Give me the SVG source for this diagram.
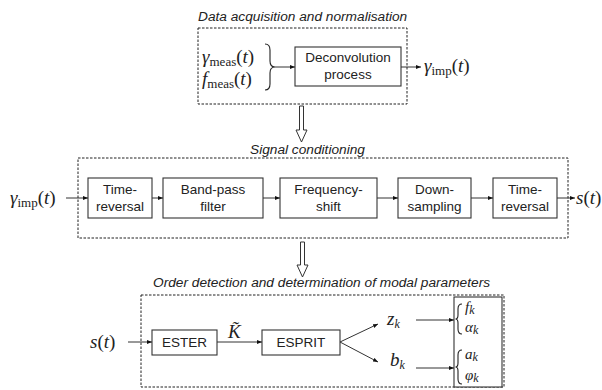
<svg xmlns="http://www.w3.org/2000/svg" width="602" height="390" viewBox="0 0 602 390">
<defs>
<marker id="ah" viewBox="0 0 10 10" refX="10" refY="5" markerWidth="5" markerHeight="5" orient="auto" markerUnits="userSpaceOnUse">
<path d="M0,1 L10,5 L0,9 z" fill="#111"/>
</marker>
</defs>
<style>
.box{fill:#fff;stroke:#333;stroke-width:1.1}
.dash{fill:none;stroke:#222;stroke-width:1;stroke-dasharray:2.5,1.5}
.lbl{font-family:"Liberation Sans",Arial,sans-serif;font-size:13.5px;fill:#222;text-anchor:middle}
.ttl{font-family:"Liberation Sans",Arial,sans-serif;font-size:13.7px;font-style:italic;fill:#222}
.m{font-family:"Liberation Serif","Times New Roman",serif;font-size:19px;fill:#222}
.r{font-family:"Liberation Serif","Times New Roman",serif;font-size:15px;fill:#222}
.mi{font-style:italic}
.sub{font-size:13px;font-style:normal}
.subi{font-size:12px;font-style:italic}
.c{fill:none;stroke:#333;stroke-width:1}
.hollow{fill:#fff;stroke:#333;stroke-width:1}
.brace{fill:none;stroke:#222;stroke-width:1.1}
</style>

<g id="group-acquisition">
<text class="ttl" x="198" y="21">Data acquisition and normalisation</text>
<rect class="dash" x="198" y="28" width="209" height="76"/>
</g>
<g id="inputs">
<text class="m" x="202" y="63"><tspan class="mi">γ</tspan><tspan class="sub" dy="3">meas</tspan><tspan dy="-3">(</tspan><tspan class="mi">t</tspan>)</text>
<text class="m" x="202" y="85"><tspan class="mi">f</tspan><tspan class="sub" dy="3">meas</tspan><tspan dy="-3">(</tspan><tspan class="mi">t</tspan>)</text>
<path class="brace" d="M265,44 Q270,44 270,50 L270,61 Q270,67 275,67 Q270,67 270,73 L270,84 Q270,90 265,90"/>
</g>
<g id="deconvolution">
<rect class="box" x="295" y="47" width="106" height="39"/>
<text class="lbl" x="348" y="62">Deconvolution</text>
<text class="lbl" x="348" y="79">process</text>
</g>
<g id="out-imp">
<text class="m" x="424" y="72"><tspan class="mi">γ</tspan><tspan class="sub" dy="3">imp</tspan><tspan dy="-3">(</tspan><tspan class="mi">t</tspan>)</text>
</g>

<g id="group-conditioning">
<text class="ttl" x="250" y="154">Signal conditioning</text>
<rect class="dash" x="78" y="158" width="490" height="80"/>
</g>
<g id="in-imp">
<text class="m" x="10" y="204"><tspan class="mi">γ</tspan><tspan class="sub" dy="3">imp</tspan><tspan dy="-3">(</tspan><tspan class="mi">t</tspan>)</text>
</g>
<g id="timerev1">
<rect class="box" x="88" y="178" width="64" height="40"/>
<text class="lbl" x="120" y="194">Time-</text>
<text class="lbl" x="120" y="211">reversal</text>
</g>
<g id="bandpass">
<rect class="box" x="163" y="178" width="100" height="40"/>
<text class="lbl" x="213" y="194">Band-pass</text>
<text class="lbl" x="213" y="211">filter</text>
</g>
<g id="freqshift">
<rect class="box" x="280" y="178" width="97" height="40"/>
<text class="lbl" x="328.5" y="194">Frequency-</text>
<text class="lbl" x="328.5" y="211">shift</text>
</g>
<g id="downsampling">
<rect class="box" x="398" y="178" width="73" height="40"/>
<text class="lbl" x="434.5" y="194">Down-</text>
<text class="lbl" x="434.5" y="211">sampling</text>
</g>
<g id="timerev2">
<rect class="box" x="493" y="178" width="64" height="40"/>
<text class="lbl" x="525" y="194">Time-</text>
<text class="lbl" x="525" y="211">reversal</text>
</g>
<g id="out-s">
<text class="m" x="576" y="204"><tspan class="mi">s</tspan>(<tspan class="mi">t</tspan>)</text>
</g>

<g id="group-order">
<text class="ttl" x="153" y="287">Order detection and determination of modal parameters</text>
<rect class="dash" x="141" y="295" width="363" height="92"/>
</g>
<g id="in-s">
<text class="m" x="90" y="348"><tspan class="mi">s</tspan>(<tspan class="mi">t</tspan>)</text>
</g>
<g id="ester">
<rect class="box" x="152" y="330" width="65" height="25"/>
<text class="lbl" x="184.5" y="347">ESTER</text>
</g>
<g id="esprit">
<rect class="box" x="262" y="330" width="78" height="25"/>
<text class="lbl" x="301" y="347">ESPRIT</text>
</g>
<g id="ktilde">
<text class="m mi" x="228" y="338">K̃</text>
</g>
<g id="zk">
<text class="m" x="387" y="325"><tspan class="mi">z</tspan><tspan class="subi" dy="3">k</tspan></text>
</g>
<g id="bk">
<text class="m" x="390" y="366"><tspan class="mi">b</tspan><tspan class="subi" dy="3">k</tspan></text>
</g>
<g id="results">
<rect class="box" x="454" y="297" width="48" height="90"/>
<path class="brace" d="M462,304 Q458,304 458,309 L458,315 Q458,319 455.5,319 Q458,319 458,323 L458,329 Q458,334 462,334"/>
<path class="brace" d="M462,350 Q458,350 458,355 L458,363 Q458,367 455.5,367 Q458,367 458,371 L458,379 Q458,384 462,384"/>
<text class="r" x="465" y="312"><tspan class="mi">f</tspan><tspan class="subi" dy="2">k</tspan></text>
<text class="r" x="465" y="332"><tspan class="mi">α</tspan><tspan class="subi" dy="2">k</tspan></text>
<text class="r" x="465" y="359"><tspan class="mi">a</tspan><tspan class="subi" dy="2">k</tspan></text>
<text class="r" x="465" y="380"><tspan class="mi">φ</tspan><tspan class="subi" dy="2">k</tspan></text>
</g>

<g id="connectors">
<line class="c" x1="275" y1="67" x2="295" y2="67" marker-end="url(#ah)"/>
<line class="c" x1="401" y1="67" x2="421" y2="67" marker-end="url(#ah)"/>
<path class="hollow" d="M299.5,106 L303.5,106 L303.5,130 L307,130 L301.5,142 L296,130 L299.5,130 Z"/>
<line class="c" x1="66" y1="198" x2="88" y2="198" marker-end="url(#ah)"/>
<line class="c" x1="152" y1="198" x2="163" y2="198" marker-end="url(#ah)"/>
<line class="c" x1="263" y1="198" x2="280" y2="198" marker-end="url(#ah)"/>
<line class="c" x1="377" y1="198" x2="398" y2="198" marker-end="url(#ah)"/>
<line class="c" x1="471" y1="198" x2="493" y2="198" marker-end="url(#ah)"/>
<line class="c" x1="557" y1="198" x2="575" y2="198" marker-end="url(#ah)"/>
<path class="hollow" d="M300.5,242 L304.5,242 L304.5,265 L308,265 L302.5,277 L297,265 L300.5,265 Z"/>
<line class="c" x1="128" y1="342" x2="152" y2="342" marker-end="url(#ah)"/>
<line class="c" x1="217" y1="342" x2="262" y2="342" marker-end="url(#ah)"/>
<line class="c" x1="340" y1="342" x2="378" y2="324" marker-end="url(#ah)"/>
<line class="c" x1="340" y1="342" x2="378" y2="362" marker-end="url(#ah)"/>
<line class="c" x1="416" y1="320" x2="454" y2="320" marker-end="url(#ah)"/>
<line class="c" x1="416" y1="368" x2="454" y2="368" marker-end="url(#ah)"/>
</g>
</svg>
